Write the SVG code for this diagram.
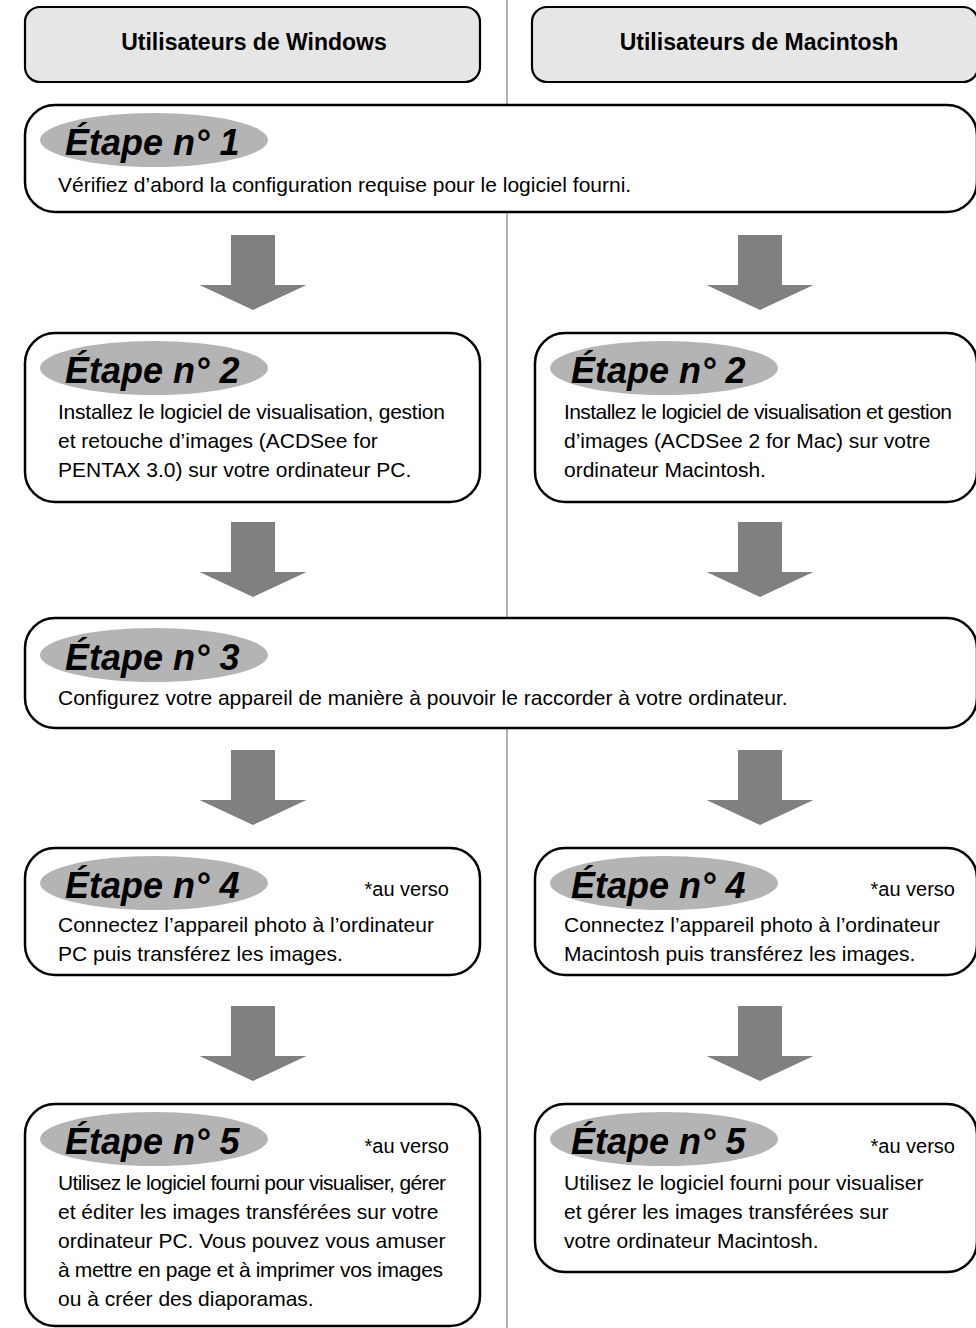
<svg xmlns="http://www.w3.org/2000/svg" width="976" height="1328" viewBox="0 0 976 1328">
<style>
.hdr{fill:#e6e6e6;stroke:#000;stroke-width:2.2}
.box{fill:#fff;stroke:#000;stroke-width:2.5}
.oval{fill:#b4b4b4}
.lbl{font-family:"Liberation Sans",Arial,sans-serif;font-size:36px;font-weight:bold;font-style:italic;fill:#000}
.htxt{font-family:"Liberation Sans",Arial,sans-serif;font-size:23px;font-weight:bold;fill:#000;text-anchor:middle}
.t{font-family:"Liberation Sans",Arial,sans-serif;font-size:21px;fill:#000}
.v{font-family:"Liberation Sans",Arial,sans-serif;font-size:20px;fill:#000;text-anchor:end}
.arr{fill:#808080}
</style>
<rect width="976" height="1328" fill="#fff"/>
<line x1="507" y1="0" x2="507" y2="1328" stroke="#999" stroke-width="1.5"/>

<g id="hdr-win">
<rect class="hdr" x="25" y="7" width="455" height="75" rx="15"/>
<text class="htxt" x="254" y="50">Utilisateurs de Windows</text>
</g>
<g id="hdr-mac">
<rect class="hdr" x="532" y="7" width="446" height="75" rx="15"/>
<text class="htxt" x="759" y="50">Utilisateurs de Macintosh</text>
</g>

<g id="step1">
<rect class="box" x="25" y="105" width="952" height="107" rx="30"/>
<ellipse class="oval" cx="154" cy="140" rx="114" ry="27"/>
<text class="lbl" x="65" y="155">Étape n° 1</text>
<text class="t" x="58" y="192">Vérifiez d’abord la configuration requise pour le logiciel fourni.</text>
</g>

<g id="step2-win">
<rect class="box" x="25" y="333" width="455" height="169" rx="30"/>
<ellipse class="oval" cx="154" cy="368" rx="114" ry="27"/>
<text class="lbl" x="65" y="383">Étape n° 2</text>
<text class="t" x="58" y="419" textLength="387" lengthAdjust="spacing">Installez le logiciel de visualisation, gestion</text>
<text class="t" x="58" y="448">et retouche d’images (ACDSee for</text>
<text class="t" x="58" y="477">PENTAX 3.0) sur votre ordinateur PC.</text>
</g>

<g id="step2-mac">
<rect class="box" x="535" y="333" width="442" height="169" rx="30"/>
<ellipse class="oval" cx="664" cy="368" rx="114" ry="27"/>
<text class="lbl" x="571" y="383">Étape n° 2</text>
<text class="t" x="564" y="419" textLength="388" lengthAdjust="spacing">Installez le logiciel de visualisation et gestion</text>
<text class="t" x="564" y="448">d’images (ACDSee 2 for Mac) sur votre</text>
<text class="t" x="564" y="477">ordinateur Macintosh.</text>
</g>

<g id="step3">
<rect class="box" x="25" y="618" width="952" height="110" rx="30"/>
<ellipse class="oval" cx="154" cy="655" rx="114" ry="27"/>
<text class="lbl" x="65" y="670">Étape n° 3</text>
<text class="t" x="58" y="705">Configurez votre appareil de manière à pouvoir le raccorder à votre ordinateur.</text>
</g>

<g id="step4-win">
<rect class="box" x="25" y="848" width="455" height="127" rx="30"/>
<ellipse class="oval" cx="154" cy="883" rx="114" ry="27"/>
<text class="lbl" x="65" y="898">Étape n° 4</text>
<text class="v" x="449" y="896">*au verso</text>
<text class="t" x="58" y="932">Connectez l’appareil photo à l’ordinateur</text>
<text class="t" x="58" y="961">PC puis transférez les images.</text>
</g>

<g id="step4-mac">
<rect class="box" x="535" y="848" width="442" height="127" rx="30"/>
<ellipse class="oval" cx="664" cy="883" rx="114" ry="27"/>
<text class="lbl" x="571" y="898">Étape n° 4</text>
<text class="v" x="955" y="896">*au verso</text>
<text class="t" x="564" y="932">Connectez l’appareil photo à l’ordinateur</text>
<text class="t" x="564" y="961">Macintosh puis transférez les images.</text>
</g>

<g id="step5-win">
<rect class="box" x="25" y="1104" width="455" height="222" rx="30"/>
<ellipse class="oval" cx="154" cy="1139" rx="114" ry="27"/>
<text class="lbl" x="65" y="1154">Étape n° 5</text>
<text class="v" x="449" y="1153">*au verso</text>
<text class="t" x="58" y="1190" textLength="388" lengthAdjust="spacing">Utilisez le logiciel fourni pour visualiser, gérer</text>
<text class="t" x="58" y="1219">et éditer les images transférées sur votre</text>
<text class="t" x="58" y="1248">ordinateur PC. Vous pouvez vous amuser</text>
<text class="t" x="58" y="1277" textLength="385" lengthAdjust="spacing">à mettre en page et à imprimer vos images</text>
<text class="t" x="58" y="1306">ou à créer des diaporamas.</text>
</g>

<g id="step5-mac">
<rect class="box" x="535" y="1104" width="442" height="168" rx="30"/>
<ellipse class="oval" cx="664" cy="1139" rx="114" ry="27"/>
<text class="lbl" x="571" y="1154">Étape n° 5</text>
<text class="v" x="955" y="1153">*au verso</text>
<text class="t" x="564" y="1190">Utilisez le logiciel fourni pour visualiser</text>
<text class="t" x="564" y="1219">et gérer les images transférées sur</text>
<text class="t" x="564" y="1248">votre ordinateur Macintosh.</text>
</g>

<g id="connectors">
<polygon class="arr" points="231,235 275,235 275,285 306.5,285 253,310 199.5,285 231,285"/>
<polygon class="arr" points="738,235 782,235 782,285 813.5,285 760,310 706.5,285 738,285"/>
<polygon class="arr" points="231,522 275,522 275,572 306.5,572 253,597 199.5,572 231,572"/>
<polygon class="arr" points="738,522 782,522 782,572 813.5,572 760,597 706.5,572 738,572"/>
<polygon class="arr" points="231,750 275,750 275,800 306.5,800 253,825 199.5,800 231,800"/>
<polygon class="arr" points="738,750 782,750 782,800 813.5,800 760,825 706.5,800 738,800"/>
<polygon class="arr" points="231,1006 275,1006 275,1056 306.5,1056 253,1081 199.5,1056 231,1056"/>
<polygon class="arr" points="738,1006 782,1006 782,1056 813.5,1056 760,1081 706.5,1056 738,1056"/>
</g>
</svg>
